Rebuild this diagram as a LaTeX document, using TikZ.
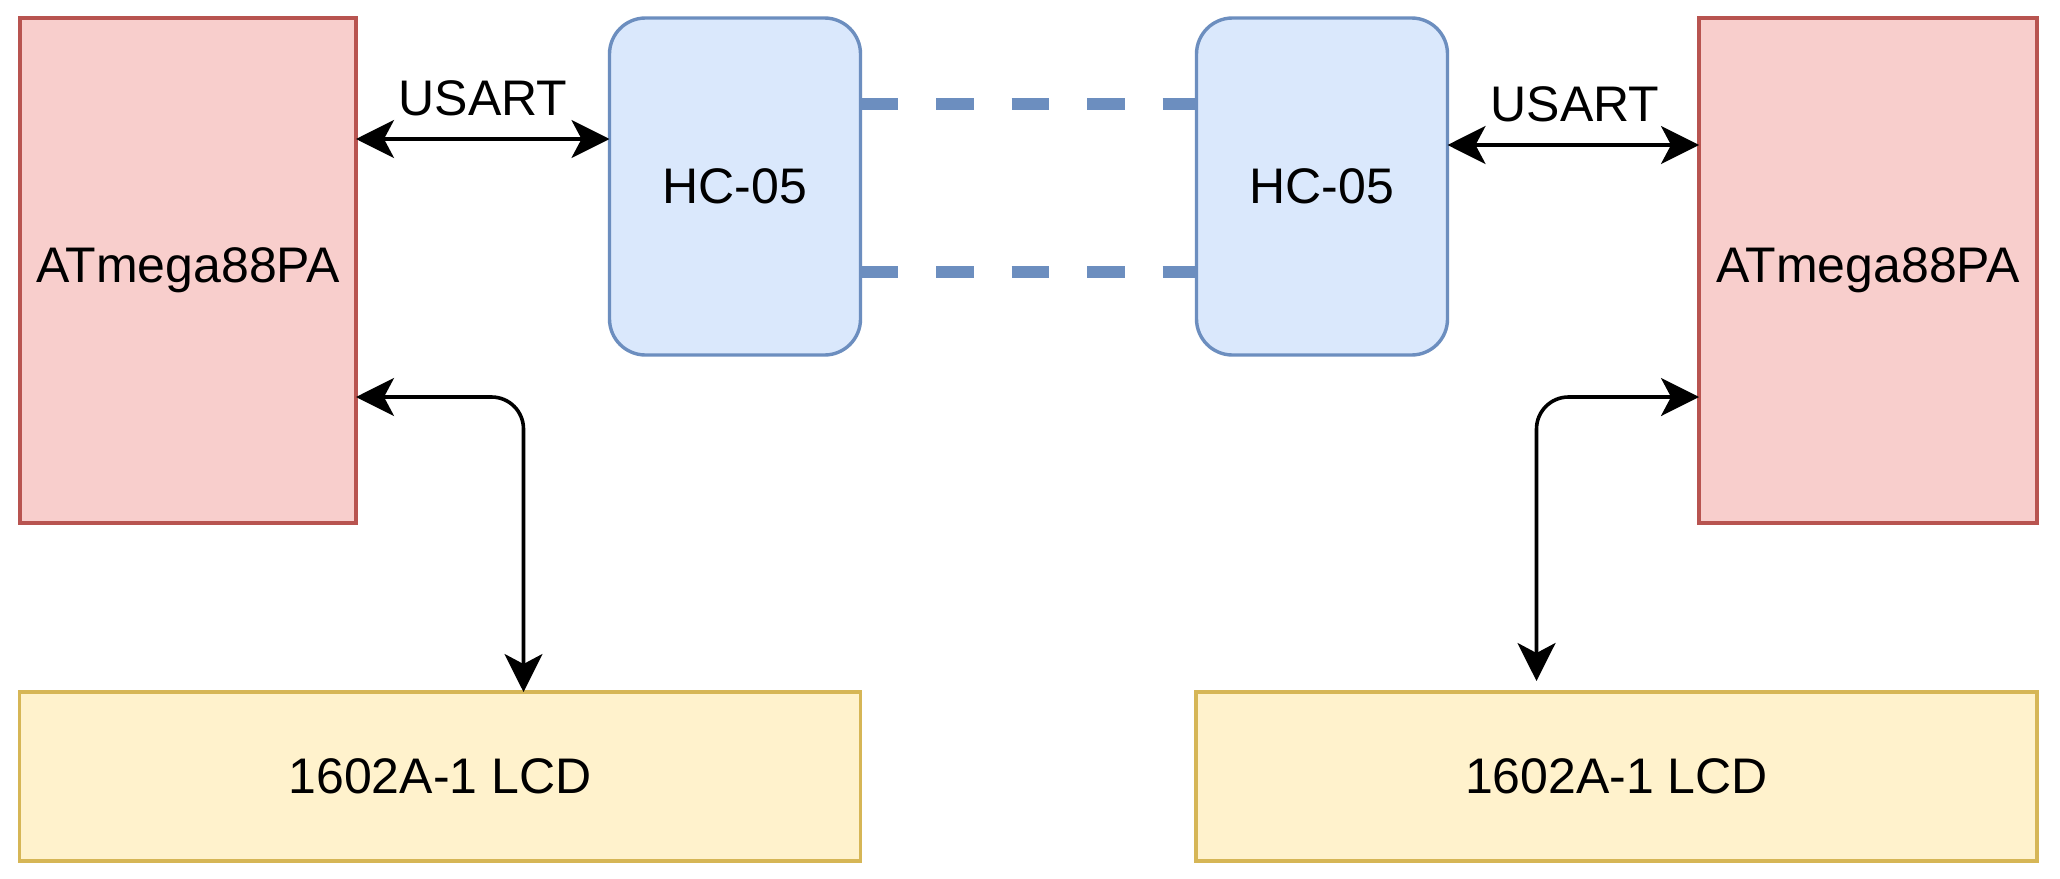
\documentclass[tikz,border=0pt]{standalone}
\usepackage{fontspec}
\setmainfont{Liberation Sans}
\usetikzlibrary{arrows.meta}
\definecolor{redfill}{HTML}{F8CECC}
\definecolor{redline}{HTML}{B85450}
\definecolor{bluefill}{HTML}{DAE8FC}
\definecolor{blueline}{HTML}{6C8EBF}
\definecolor{yelfill}{HTML}{FFF2CC}
\definecolor{yelline}{HTML}{D6B656}
\tikzset{
  boxtext/.style={font=\fontsize{25}{30}\selectfont, text=black, inner sep=0pt, outer sep=0pt},
  mcubox/.style={boxtext, draw=redline, fill=redfill, line width=1.7pt, minimum width=168pt, minimum height=252.5pt},
  btbox/.style={boxtext, draw=blueline, fill=bluefill, line width=1.7pt, rounded corners=18pt, minimum width=125.5pt, minimum height=168.5pt},
  lcdbox/.style={boxtext, draw=yelline, fill=yelfill, line width=1.7pt, minimum width=420.5pt, minimum height=84.5pt},
  biarrow/.style={line width=1.8pt, {Stealth[length=19pt,width=19pt,inset=5pt]}-{Stealth[length=19pt,width=19pt,inset=5pt]}},
  dashlink/.style={draw=blueline, line width=6pt, dash pattern=on 18.75pt off 19pt},
  lbl/.style={boxtext}
}
\begin{document}
\begin{tikzpicture}[x=0.5pt,y=-0.5pt]
\useasboundingbox[fill=white] (0,0) rectangle (2060,878);
% left side
\node[mcubox] (redL) at (188,270.5) {ATmega88PA};
\node[btbox] (hcL) at (735,186.5) {HC-05};
\node[lcdbox] (lcdL) at (440,776.5) {1602A-1 LCD};
% right side
\node[btbox] (hcR) at (1322,186.5) {HC-05};
\node[mcubox, minimum width=169pt] (redR) at (1868,270.5) {ATmega88PA};
\node[lcdbox] (lcdR) at (1616.5,776.5) {1602A-1 LCD};
% labels
\node[lbl] (usartL) at (483,98) {USART};
\node[lbl] (usartR) at (1575,104) {USART};
% wireless link
\draw[dashlink] (hcL.east |- 0,104) -- (hcR.west |- 0,104);
\draw[dashlink] (hcL.east |- 0,272) -- (hcR.west |- 0,272);
% USART connectors
\draw[biarrow] (redL.east |- 0,139) -- (hcL.west |- 0,139);
\draw[biarrow] (hcR.east |- 0,145) -- (redR.west |- 0,145);
% LCD connectors
\coordinate (lcdRend) at (1536.5,681);
\draw[biarrow, rounded corners=16pt] (redL.east |- 0,397) -| (lcdL.north -| 523.5,0);
\draw[biarrow, rounded corners=16pt] (redR.west |- 0,397) -| (lcdRend);
\end{tikzpicture}
\end{document}
